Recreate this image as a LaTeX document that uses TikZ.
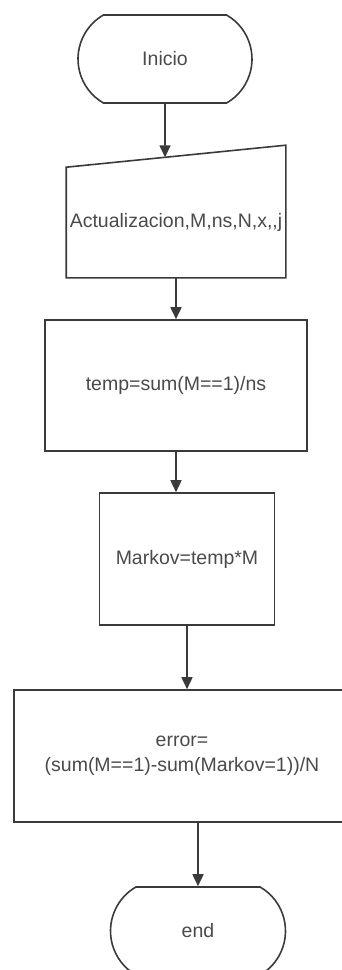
\documentclass[tikz,border=0pt]{standalone}
\usepackage{fontspec}
\setmainfont{Liberation Sans}
\usetikzlibrary{shapes.misc,arrows.meta,calc}
\definecolor{linea}{HTML}{3A3A3A}
\definecolor{texto}{HTML}{4A4A4A}
\tikzset{
   caja/.style={rectangle,draw=linea,line width=1.6pt,inner sep=0pt,align=center,
      text=texto,font=\fontsize{19.5}{25}\selectfont},
   terminal/.style={rounded rectangle,rounded rectangle arc length=120,draw=linea,
      line width=1.6pt,inner sep=0pt,text=texto,font=\fontsize{19.5}{25}\selectfont,
      minimum width=175pt,minimum height=88pt},
   flecha/.style={-{Triangle[length=12pt,width=11pt]},line width=1.6pt,draw=linea}
}
\begin{document}
\begin{tikzpicture}[x=1pt,y=1pt]
   \clip (0,0) rectangle (342,-970);
   % inicio y datos de entrada
   \node[terminal,minimum width=174pt] (inicio) at (165,-59) {Inicio};
   \node[caja,draw=none,minimum width=218pt,minimum height=109pt] (datos) at (176,-222.5) {Actualizacion,M,ns,N,x,{},j};
   \draw[linea,line width=1.6pt] (datos.south west) -- (datos.south east) -- ([yshift=22pt]datos.north east) -- (datos.north west) -- cycle;
   \coordinate (datosarriba) at ($(datos.north west)!0.45!([yshift=22pt]datos.north east)$);
   % calculos
   \node[caja,minimum width=262pt,minimum height=131pt] (temp) at (176,-385.5) {temp=sum(M==1)/ns};
   \node[caja,minimum width=175pt,minimum height=132pt] (markov) at (187,-559) {Markov=temp*M};
   \node[caja,minimum width=336pt,minimum height=132pt] (error) at (182,-756) {error=\\(sum(M==1)-sum(Markov=1))/N};
   \node[terminal] (fin) at (198,-931) {end};
   % flechas
   \draw[flecha] (inicio) -- (datosarriba);
   \draw[flecha] (datos.south) -- (temp.north);
   \draw[flecha] (temp.south) -- (temp.south |- markov.north);
   \draw[flecha] (markov.south) -- (markov.south |- error.north);
   \draw[flecha] (fin.north |- error.south) -- (fin.north);
\end{tikzpicture}
\end{document}
